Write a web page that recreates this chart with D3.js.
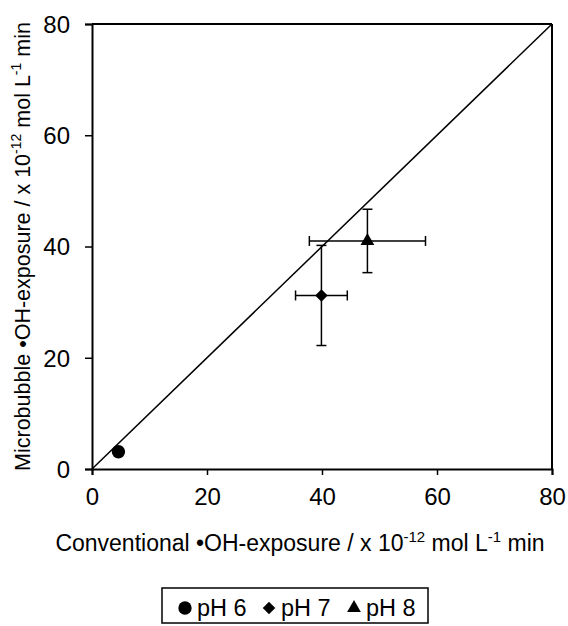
<!DOCTYPE html>
<html>
<head>
<meta charset="utf-8">
<script src="https://cdnjs.cloudflare.com/ajax/libs/d3/7.8.5/d3.min.js"></script>
<style>
  body { margin: 0; background: #fff; }
  svg text { font-family: "Liberation Sans", Arial, sans-serif; fill: #000; }
</style>
</head>
<body>
<div id="chart"></div>
<script>
// series values
const seriesNames = ['pH 6', 'pH 7', 'pH 8'];
const seriesShapes = ['circle', 'diamond', 'triangle'];
const conventional = [4.6, 39.9, 47.9];
const conventionalErr = [0, 4.5, 10.1];
const microbubble = [3.1, 31.2, 41.0];
const microbubbleErr = [0, 9.0, 5.7];
const xTicks = [0, 20, 40, 60, 80];
const yTicks = [0, 20, 40, 60, 80];

const W = 568, H = 626;
const plotLeft = 92, plotRight = 552, plotTop = 24, plotBottom = 469;

const svg = d3.select('#chart').append('svg')
    .attr('width', W).attr('height', H);

const x = d3.scaleLinear().domain([0, 80]).range([plotLeft, plotRight]);
const y = d3.scaleLinear().domain([0, 80]).range([plotBottom, plotTop]);

// axes
const xAxis = svg.append('g')
    .attr('transform', `translate(0,${plotBottom})`)
    .call(d3.axisBottom(x).tickValues(xTicks).tickSize(6).tickPadding(4));
const yAxis = svg.append('g')
    .attr('transform', `translate(${plotLeft},0)`)
    .call(d3.axisLeft(y).tickValues(yTicks).tickSize(7).tickPadding(15));

[xAxis, yAxis].forEach(g => {
    g.select('.domain').attr('stroke', '#000').attr('stroke-width', 2);
    g.selectAll('.tick line').attr('stroke', '#000').attr('stroke-width', 1.5);
    g.selectAll('.tick text').style('font-size', '24px');
});
xAxis.selectAll('.tick text').attr('y', 36).attr('dy', null);
yAxis.selectAll('.tick text').attr('dy', '0.35em');

// top and right frame
svg.append('line').attr('x1', plotLeft).attr('x2', plotRight).attr('y1', plotTop).attr('y2', plotTop)
    .attr('stroke', '#000').attr('stroke-width', 2);
svg.append('line').attr('x1', plotRight).attr('x2', plotRight).attr('y1', plotTop).attr('y2', plotBottom)
    .attr('stroke', '#000').attr('stroke-width', 2);

// 1:1 line
svg.append('line')
    .attr('x1', x(0)).attr('y1', y(0))
    .attr('x2', x(80)).attr('y2', y(80))
    .attr('stroke', '#000').attr('stroke-width', 1.5);

// error bars
const cap = 5;
seriesNames.forEach((name, i) => {
    const cx = x(conventional[i]), cy = y(microbubble[i]);
    const g = svg.append('g').attr('stroke', '#000').attr('stroke-width', 1.5);
    if (conventionalErr[i] > 0) {
        const x0 = x(conventional[i] - conventionalErr[i]);
        const x1 = x(conventional[i] + conventionalErr[i]);
        g.append('line').attr('x1', x0).attr('x2', x1).attr('y1', cy).attr('y2', cy);
        g.append('line').attr('x1', x0).attr('x2', x0).attr('y1', cy - cap).attr('y2', cy + cap);
        g.append('line').attr('x1', x1).attr('x2', x1).attr('y1', cy - cap).attr('y2', cy + cap);
    }
    if (microbubbleErr[i] > 0) {
        const y0 = y(microbubble[i] - microbubbleErr[i]);
        const y1 = y(microbubble[i] + microbubbleErr[i]);
        g.append('line').attr('x1', cx).attr('x2', cx).attr('y1', y0).attr('y2', y1);
        g.append('line').attr('x1', cx - cap).attr('x2', cx + cap).attr('y1', y0).attr('y2', y0);
        g.append('line').attr('x1', cx - cap).attr('x2', cx + cap).attr('y1', y1).attr('y2', y1);
    }
});

// marker shapes
const symbolOf = {
    circle: d3.symbol().type(d3.symbolCircle).size(140),
    diamond: d3.symbol().type(d3.symbolDiamond2).size(100),
    triangle: d3.symbol().type(d3.symbolTriangle2).size(135)
};
seriesNames.forEach((name, i) => {
    svg.append('path')
        .attr('d', symbolOf[seriesShapes[i]]())
        .attr('transform', `translate(${x(conventional[i])},${y(microbubble[i])})`)
        .attr('fill', '#000');
});

// axis titles
function unitTitle(sel, label, sup) {
    sel.append('tspan').text(label + ' \u2022OH-exposure / x 10');
    sel.append('tspan').attr('dy', -9).style('font-size', sup + 'px').text('-12');
    sel.append('tspan').attr('dy', 9).text(' mol L');
    sel.append('tspan').attr('dy', -9).style('font-size', sup + 'px').text('-1');
    sel.append('tspan').attr('dy', 9).text(' min');
}

const xTitle = svg.append('text')
    .attr('x', 300).attr('y', 551)
    .attr('text-anchor', 'middle').style('font-size', '23px');
unitTitle(xTitle, 'Conventional', 15);

const yTitle = svg.append('text')
    .attr('transform', `translate(30,${(plotTop + plotBottom) / 2}) rotate(-90)`)
    .attr('text-anchor', 'middle').style('font-size', '21.5px');
unitTitle(yTitle, 'Microbubble', 14);

// legend
const legend = svg.append('g');
legend.append('rect')
    .attr('x', 162).attr('y', 588).attr('width', 266).attr('height', 35)
    .attr('fill', '#fff').attr('stroke', '#000').attr('stroke-width', 1.5);
const legendX = [185, 269, 354];
seriesNames.forEach((name, i) => {
    legend.append('path')
        .attr('d', symbolOf[seriesShapes[i]]())
        .attr('transform', `translate(${legendX[i]},608)`)
        .attr('fill', '#000');
    legend.append('text')
        .attr('x', legendX[i] + 12).attr('y', 616)
        .style('font-size', '23.5px')
        .text(name);
});
</script>
</body>
</html>
